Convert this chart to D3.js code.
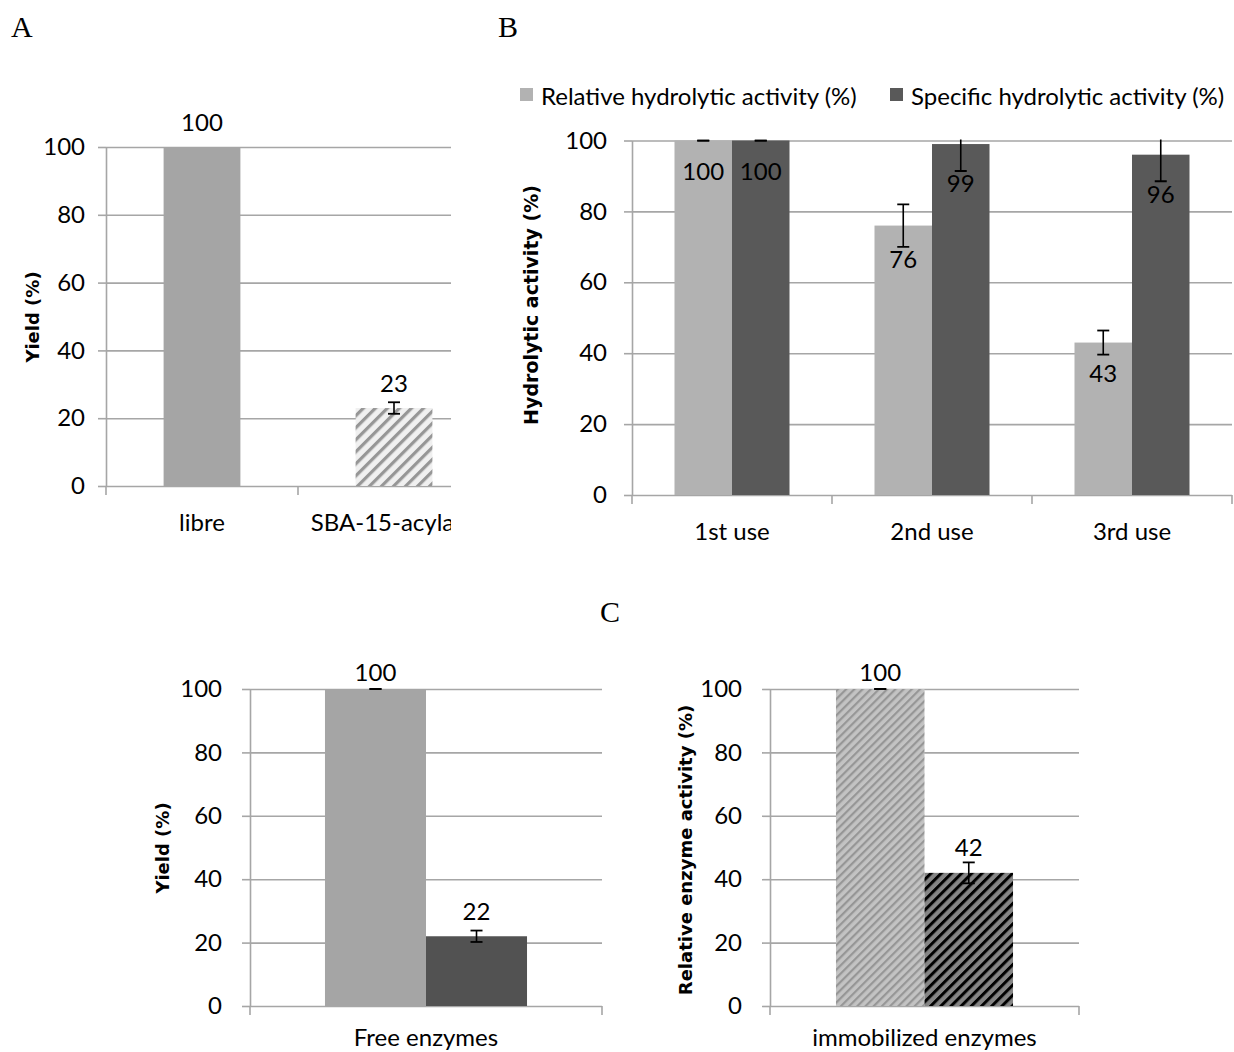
<!DOCTYPE html>
<html><head><meta charset="utf-8">
<script src="https://cdn.jsdelivr.net/npm/d3@7"></script>
<style>body{margin:0;background:#fff}</style>
</head><body><svg id="c" width="1234" height="1052"></svg>
<script>
// ---------- data ----------
const yTicks = [0, 20, 40, 60, 80, 100];

const panelA_categories = ["libre", "SBA-15-acylase"];
const panelA_values = [100, 23];
const panelA_errors = [null, 1.7];

const panelB_categories = ["1st use", "2nd use", "3rd use"];
const panelB_seriesNames = ["Relative hydrolytic activity (%)", "Specific hydrolytic activity (%)"];
const panelB_relative = [100, 76, 43];
const panelB_relativeErr = [0, 6, 3.4];
const panelB_specific = [100, 99, 96];
const panelB_specificErr = [0, 7.6, 7.5];

const panelC1_categories = ["Free enzymes"];
const panelC1_values = [100, 22];
const panelC1_errors = [0, 1.8];

const panelC2_categories = ["immobilized enzymes"];
const panelC2_values = [100, 42];
const panelC2_errors = [0, 3.3];

// ---------- drawing ----------
const SANS = "Lato, 'Open Sans', sans-serif";
const BOLD = "'DejaVu Sans', Verdana, sans-serif";
const SERIF = "'Liberation Serif', 'Times New Roman', serif";
const svg = d3.select("#c");
const defs = svg.append("defs");
const GRID = "#a6a6a6";

function hatch(id, bg, fg, period, stroke) {
  const p = defs.append("pattern").attr("id", id)
    .attr("patternUnits", "userSpaceOnUse")
    .attr("width", period).attr("height", period)
    .attr("patternTransform", "rotate(45)");
  p.append("rect").attr("width", period).attr("height", period).attr("fill", bg);
  p.append("rect").attr("width", stroke).attr("height", period).attr("fill", fg);
}
hatch("hA", "#f0f0f0", "#969696", 8.5, 3.2);
hatch("hC1", "#c3c3c3", "#969696", 5.8, 2.2);
hatch("hC2", "#858585", "#000000", 7.2, 3.0);

let clipN = 0;
function panel(o) {
  const g = svg.append("g");
  if (o.clipRight) {
    const id = "pc" + (clipN++);
    defs.append("clipPath").attr("id", id).append("rect")
      .attr("x", 0).attr("y", 0).attr("width", o.clipRight).attr("height", 1052);
    g.attr("clip-path", `url(#${id})`);
  }
  const x = d3.scaleBand().domain(o.cats).range([o.x0, o.x1]);
  const y = d3.scaleLinear().domain([0, 100]).range([o.y0, o.y1]);
  const nS = o.series.length;
  const groupW = x.bandwidth() * o.groupFrac;
  const sub = d3.scaleBand().domain(d3.range(nS)).range([0, groupW]);
  const off = (x.bandwidth() - groupW) / 2;

  // gridlines
  const grid = g.append("g").attr("transform", `translate(${o.x0},0)`)
    .call(d3.axisLeft(y).tickValues(yTicks).tickSize(-(o.x1 - o.x0)).tickFormat(""));
  grid.select(".domain").remove();
  grid.selectAll("line").attr("stroke", GRID).attr("stroke-width", 1.6);

  // y axis with labels
  const ax = g.append("g").attr("transform", `translate(${o.x0},0)`)
    .call(d3.axisLeft(y).tickValues(yTicks).tickSize(8).tickSizeOuter(0).tickPadding(o.tickPad));
  ax.select(".domain").attr("stroke", GRID).attr("stroke-width", 1.6);
  ax.selectAll("line").attr("stroke", GRID).attr("stroke-width", 1.6);
  ax.selectAll("text").attr("fill", "#000")
    .style("font-size", "24px").style("font-family", SANS);

  // x ticks at band boundaries
  const bounds = d3.range(o.cats.length + 1).map(i => o.x0 + i * x.step());
  g.append("g").selectAll("line").data(bounds).join("line")
    .attr("x1", d => d).attr("x2", d => d).attr("y1", o.y0).attr("y2", o.y0 + 9)
    .attr("stroke", GRID).attr("stroke-width", 1.6);

  // category labels
  g.append("g").selectAll("text").data(o.cats).join("text")
    .attr("x", d => x(d) + x.bandwidth() / 2).attr("y", o.y0 + (o.catDy || 35))
    .attr("text-anchor", "middle").attr("dominant-baseline", "central")
    .style("font-size", "24px").style("font-family", SANS).attr("fill", "#000").text(d => d);

  // bars, error bars, labels
  const eclipId = "ec" + (clipN++);
  defs.append("clipPath").attr("id", eclipId).append("rect")
    .attr("x", o.x0).attr("y", o.y1 - 1).attr("width", o.x1 - o.x0).attr("height", o.y0 - o.y1 + 1);

  o.series.forEach((s, si) => {
    const items = o.cats.map((c, ci) => ({
      c, v: s.values[ci], e: s.errors[ci],
      fill: Array.isArray(s.fill) ? s.fill[ci] : s.fill,
      cx: x(c) + off + sub(si) + sub.bandwidth() / 2
    }));
    g.append("g").selectAll("rect").data(items).join("rect")
      .attr("x", d => d.cx - sub.bandwidth() / 2).attr("width", sub.bandwidth())
      .attr("y", d => y(d.v)).attr("height", d => y(0) - y(d.v))
      .attr("fill", d => d.fill);

    const eg = g.append("g").attr("clip-path", `url(#${eclipId})`);
    items.filter(d => d.e !== null && d.e !== undefined).forEach(d => {
      const cw = 6;
      if (d.e > 0) {
        eg.append("line").attr("x1", d.cx).attr("x2", d.cx)
          .attr("y1", y(d.v - d.e)).attr("y2", y(d.v + d.e))
          .attr("stroke", "#000").attr("stroke-width", 1.6);
      }
      [d.v - d.e, d.v + d.e].forEach(t => {
        eg.append("line").attr("x1", d.cx - cw).attr("x2", d.cx + cw)
          .attr("y1", y(t)).attr("y2", y(t))
          .attr("stroke", "#000").attr("stroke-width", 1.8);
      });
    });

    g.append("g").selectAll("text").data(items).join("text")
      .attr("x", d => d.cx)
      .attr("y", d => o.labelInside
        ? Math.max(y(d.v) + 30, y(d.v - (d.e || 0)) + 12)
        : y(d.v) - (o.fixedOffset || (d.e ? 26 : 18)))
      .attr("text-anchor", "middle").attr("dominant-baseline", "central")
      .style("font-size", "24px").style("font-family", SANS).attr("fill", "#000").text(d => d.v);
  });

  // axis title
  g.append("text")
    .attr("transform", `translate(${o.titleX},${o.titleY}) rotate(-90)`)
    .attr("text-anchor", "middle").attr("dominant-baseline", "central")
    .style("font-family", BOLD).style("font-weight", "bold")
    .style("font-size", o.titleSize + "px").attr("fill", "#000").text(o.title);
  return {x, y};
}

// Panel A
panel({
  x0: 106, x1: 490, y0: 486, y1: 147, clipRight: 451,
  cats: panelA_categories, groupFrac: 0.4, tickPad: 13,
  series: [{values: panelA_values, errors: panelA_errors, fill: ["#a5a5a5", "url(#hA)"]}],
  labelInside: false, fixedOffset: 26,
  title: "Yield (%)", titleX: 32, titleY: 317, titleSize: 18
});

// Panel B
panel({
  x0: 632, x1: 1232, y0: 495, y1: 140.5,
  cats: panelB_categories, groupFrac: 0.575, tickPad: 17,
  series: [
    {values: panelB_relative, errors: panelB_relativeErr, fill: "#b2b2b2"},
    {values: panelB_specific, errors: panelB_specificErr, fill: "#595959"}
  ],
  labelInside: true,
  title: "Hydrolytic activity (%)", titleX: 531, titleY: 305, titleSize: 19
});

// Legend B
const legendColors = ["#b2b2b2", "#595959"];
const legendX = [520, 890];
const lg = svg.append("g").selectAll("g").data(panelB_seriesNames).join("g")
  .attr("transform", (d, i) => `translate(${legendX[i]},88)`);
lg.append("rect").attr("width", 13).attr("height", 13).attr("fill", (d, i) => legendColors[i]);
lg.append("text").attr("x", 21).attr("y", 7).attr("dominant-baseline", "central")
  .style("font-size", "24px").style("font-family", SANS).attr("fill", "#000").text(d => d);

// Panel C left
panel({
  x0: 250, x1: 602, y0: 1006, y1: 689, catDy: 30,
  cats: panelC1_categories, groupFrac: 0.574, tickPad: 20,
  series: [
    {values: [panelC1_values[0]], errors: [panelC1_errors[0]], fill: "#a5a5a5"},
    {values: [panelC1_values[1]], errors: [panelC1_errors[1]], fill: "#525252"}
  ],
  labelInside: false,
  title: "Yield (%)", titleX: 162, titleY: 848, titleSize: 18
});

// Panel C right
panel({
  x0: 770, x1: 1079, y0: 1006, y1: 689, catDy: 30,
  cats: panelC2_categories, groupFrac: 0.573, tickPad: 20,
  series: [
    {values: [panelC2_values[0]], errors: [panelC2_errors[0]], fill: "url(#hC1)"},
    {values: [panelC2_values[1]], errors: [panelC2_errors[1]], fill: "url(#hC2)"}
  ],
  labelInside: false,
  title: "Relative enzyme activity (%)", titleX: 685, titleY: 850, titleSize: 18
});

// Panel letters
const letters = [["A", 11, 37], ["B", 498, 37], ["C", 600, 622]];
svg.append("g").selectAll("text").data(letters).join("text")
  .attr("x", d => d[1]).attr("y", d => d[2])
  .style("font-family", SERIF)
  .style("font-size", "30px").attr("fill", "#000").text(d => d[0]);
</script>
</body></html>
